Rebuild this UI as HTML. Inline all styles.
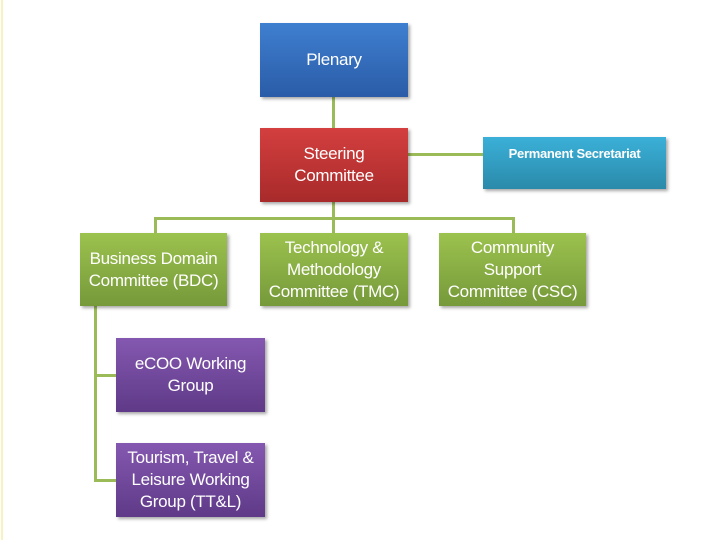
<!DOCTYPE html>
<html><head><style>
body{margin:0;width:720px;height:540px;background:#fff;position:relative;overflow:hidden;font-family:"Liberation Sans",sans-serif;}
.b{position:absolute;display:flex;align-items:center;justify-content:center;text-align:center;color:#fff;font-size:17px;line-height:22px;box-shadow:2px 2px 3px rgba(0,0,0,0.35);letter-spacing:-0.3px}
.l{position:absolute;background:#9bbb59}
</style></head><body>
<div style="position:absolute;left:1px;top:0;width:2px;height:540px;background:#f7f2c0"></div>
<div class="l" style="left:332px;top:97px;width:3px;height:31px"></div>
<div class="l" style="left:408px;top:153px;width:75px;height:3px"></div>
<div class="l" style="left:332px;top:202px;width:3px;height:31px"></div>
<div class="l" style="left:154px;top:217px;width:361px;height:3px"></div>
<div class="l" style="left:154px;top:217px;width:3px;height:16px"></div>
<div class="l" style="left:512px;top:217px;width:3px;height:16px"></div>
<div class="l" style="left:94px;top:306px;width:3px;height:176px"></div>
<div class="l" style="left:94px;top:374px;width:22px;height:3px"></div>
<div class="l" style="left:94px;top:479px;width:22px;height:3px"></div>
<div class="b" style="left:260px;top:23px;width:148px;height:74px;background:linear-gradient(#3f7fd0,#2a5ca8)">Plenary</div>
<div class="b" style="left:260px;top:128px;width:148px;height:74px;background:linear-gradient(#d43f3f,#a82a2a)">Steering<br>Committee</div>
<div class="b" style="left:483px;top:137px;width:183px;height:52px;align-items:flex-start;padding-top:6px;box-sizing:border-box;font-size:13px;font-weight:bold;background:linear-gradient(#3bb0d8,#2a8aaa)">Permanent Secretariat</div>
<div class="b" style="left:80px;top:233px;width:147px;height:73px;background:linear-gradient(#9cc24e,#76993a)">Business Domain<br>Committee (BDC)</div>
<div class="b" style="left:260px;top:233px;width:148px;height:73px;background:linear-gradient(#9cc24e,#76993a)">Technology &amp;<br>Methodology<br>Committee (TMC)</div>
<div class="b" style="left:439px;top:233px;width:147px;height:73px;background:linear-gradient(#9cc24e,#76993a)">Community<br>Support<br>Committee (CSC)</div>
<div class="b" style="left:116px;top:338px;width:149px;height:74px;background:linear-gradient(#8458b0,#5f3a88)">eCOO Working<br>Group</div>
<div class="b" style="left:116px;top:443px;width:149px;height:74px;background:linear-gradient(#8458b0,#5f3a88)">Tourism, Travel &amp;<br>Leisure Working<br>Group (TT&amp;L)</div>
</body></html>
